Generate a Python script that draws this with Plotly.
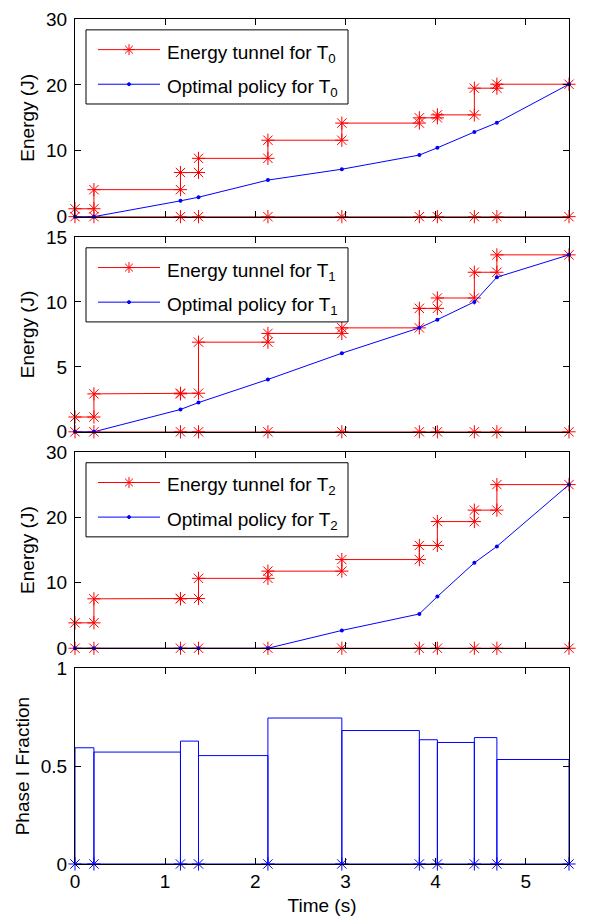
import plotly.graph_objects as go

# ---------------- data ----------------
times = [0, 0.21, 1.17, 1.37, 2.14, 2.96, 3.82, 4.02, 4.43, 4.68, 5.48]

tunnel_T0 = [1.2, 4.1, 6.7, 8.85, 11.6, 14.2, 15.0, 15.45, 19.5, 20.1]
policy_T0 = [0, 0, 2.4, 2.95, 5.55, 7.2, 9.35, 10.45, 12.85, 14.25, 20.1]

tunnel_T1 = [1.14, 2.92, 2.97, 6.9, 7.57, 8.0, 9.5, 10.3, 12.28, 13.62]
policy_T1 = [0, 0, 1.72, 2.25, 4.03, 6.05, 8.0, 8.63, 10.0, 11.9, 13.62]

tunnel_T2 = [3.88, 7.55, 7.6, 10.68, 11.78, 13.55, 15.7, 19.35, 21.1, 25.0]
policy_T2 = [0, 0, 0, 0, 0, 2.72, 5.24, 7.9, 13.05, 15.56, 25.0]

phase1_fraction = [0.594, 0.572, 0.628, 0.554, 0.746, 0.682, 0.635, 0.621, 0.646, 0.534]

lower_bound = [0] * len(times)

x_ticks = [0, 1, 2, 3, 4, 5]
y_ranges = [[0, 30], [0, 15], [0, 30], [0, 1]]
y_ticks = [[0, 10, 20, 30], [0, 5, 10, 15], [0, 10, 20, 30], [0, 0.5, 1]]
y_ticktext = [None, None, None, ["0", "0.5", "1"]]
labels = ["0", "1", "2"]

# ---------------- style ----------------
FONT = "Liberation Sans, Arial, Helvetica, sans-serif"
FS = 19
RED = "#ff0000"
BLUE = "#0000ff"
W, H = 595, 924
ML, MR, MT, MB = 75, 26, 9, 60
PW, PH = W - ML - MR, H - MT - MB


def px(x):
    return (x - ML) / PW


def py(y):
    return (H - MB - y) / PH


# panel pixel tops / bottoms
panel_px = [(9, 209), (229.5, 426.7), (447, 645.7), (666, 864)]


def step_path(t, u):
    xs, ys = [], []
    for i, v in enumerate(u):
        xs += [t[i], t[i + 1]]
        ys += [v, v]
    return xs, ys


def bar_path(t, f):
    xs, ys = [t[0]], [0]
    for i, v in enumerate(f):
        xs += [t[i], t[i + 1], t[i + 1]]
        ys += [v, v, 0]
    return xs, ys


fig = go.Figure()

tunnels = [tunnel_T0, tunnel_T1, tunnel_T2]
policies = [policy_T0, policy_T1, policy_T2]

for k in range(3):
    xa = "x" if k == 0 else f"x{k+1}"
    ya = "y" if k == 0 else f"y{k+1}"
    sx, sy = step_path(times, tunnels[k])
    fig.add_trace(go.Scatter(
        x=times, y=lower_bound, xaxis=xa, yaxis=ya, mode="lines+markers",
        line=dict(color="#c00000", width=1),
        marker=dict(symbol="asterisk-open", size=11, color=RED, line=dict(color=RED, width=1)),
        cliponaxis=False, showlegend=False, hoverinfo="skip"))
    fig.add_trace(go.Scatter(
        x=sx, y=sy, xaxis=xa, yaxis=ya, mode="lines+markers",
        line=dict(color=RED, width=1),
        marker=dict(symbol="asterisk-open", size=11, color=RED, line=dict(color=RED, width=1)),
        cliponaxis=False, showlegend=False, name=f"Energy tunnel for T{labels[k]}"))
    fig.add_trace(go.Scatter(
        x=times, y=policies[k], xaxis=xa, yaxis=ya, mode="lines+markers",
        line=dict(color=BLUE, width=1),
        marker=dict(symbol="circle", size=4, color=BLUE),
        cliponaxis=False, showlegend=False, name=f"Optimal policy for T{labels[k]}"))

bx, by = bar_path(times, phase1_fraction)
fig.add_trace(go.Scatter(
    x=bx, y=by, xaxis="x4", yaxis="y4", mode="lines",
    line=dict(color=BLUE, width=1), cliponaxis=False, showlegend=False))
fig.add_trace(go.Scatter(
    x=times, y=lower_bound, xaxis="x4", yaxis="y4", mode="lines+markers",
    line=dict(color=BLUE, width=1),
    marker=dict(symbol="asterisk-open", size=11, color=BLUE, line=dict(color=BLUE, width=1)),
    cliponaxis=False, showlegend=False))

axis_common = dict(
    showline=True, linecolor="black", linewidth=1, mirror="ticks",
    ticks="inside", ticklen=6, tickwidth=1, tickcolor="black",
    showgrid=False, zeroline=False,
    tickfont=dict(family=FONT, size=FS, color="black"),
)

layout = dict(
    width=W, height=H, margin=dict(l=ML, r=MR, t=MT, b=MB),
    paper_bgcolor="white", plot_bgcolor="white",
    font=dict(family=FONT, size=FS, color="black"),
    showlegend=False,
)

for k in range(4):
    sfx = "" if k == 0 else str(k + 1)
    top, bot = panel_px[k]
    xax = dict(axis_common, domain=[0, 1], range=[0, 5.48], tickvals=x_ticks,
               anchor="y" + sfx, showticklabels=(k == 3))
    if k == 3:
        xax["title"] = dict(text="Time (s)", font=dict(family=FONT, size=FS), standoff=7)
    yax = dict(axis_common, domain=[py(bot), py(top)], range=y_ranges[k],
               tickvals=y_ticks[k], anchor="x" + sfx, ticklabelstandoff=3)
    if y_ticktext[k] is not None:
        yax["ticktext"] = y_ticktext[k]
    yax["title"] = dict(text=("Energy (J)" if k < 3 else "Phase I Fraction"),
                        font=dict(family=FONT, size=FS), standoff=6)
    layout["xaxis" + sfx] = xax
    layout["yaxis" + sfx] = yax

# ---------------- manual legends (MATLAB style) ----------------
shapes = []
annotations = []


def asterisk_path(cx, cy, r):
    d = r * 0.7071
    segs = [(-r, 0, r, 0), (0, -r, 0, r), (-d, -d, d, d), (-d, d, d, -d)]
    p = ""
    for a, b, c, e in segs:
        p += f"M{px(cx + a)},{py(cy + b)} L{px(cx + c)},{py(cy + e)} "
    return p


for k in range(3):
    top = panel_px[k][0]
    shapes.append(dict(type="rect", xref="paper", yref="paper",
                       x0=px(86), x1=px(348), y0=py(top + 86), y1=py(top + 11),
                       line=dict(color="black", width=1), fillcolor="white", layer="above"))
    y1 = top + 31
    y2 = top + 66
    shapes.append(dict(type="line", xref="paper", yref="paper",
                       x0=px(98), x1=px(160), y0=py(y1), y1=py(y1),
                       line=dict(color=RED, width=1), layer="above"))
    shapes.append(dict(type="path", xref="paper", yref="paper",
                       path=asterisk_path(129, y1, 5.5),
                       line=dict(color=RED, width=1), layer="above"))
    shapes.append(dict(type="line", xref="paper", yref="paper",
                       x0=px(98), x1=px(160), y0=py(y2), y1=py(y2),
                       line=dict(color=BLUE, width=1), layer="above"))
    shapes.append(dict(type="circle", xref="paper", yref="paper",
                       x0=px(127.5), x1=px(130.5), y0=py(y2 + 1.5), y1=py(y2 - 1.5),
                       line=dict(color=BLUE, width=1), fillcolor=BLUE, layer="above"))
    annotations.append(dict(xref="paper", yref="paper", x=px(165), y=py(y1 + 4),
                            text=f"Energy tunnel for T<sub>{labels[k]}</sub>",
                            showarrow=False, xanchor="left", yanchor="middle",
                            font=dict(family=FONT, size=FS, color="black")))
    annotations.append(dict(xref="paper", yref="paper", x=px(165), y=py(y2 + 4),
                            text=f"Optimal policy for T<sub>{labels[k]}</sub>",
                            showarrow=False, xanchor="left", yanchor="middle",
                            font=dict(family=FONT, size=FS, color="black")))

layout["shapes"] = shapes
layout["annotations"] = annotations
fig.update_layout(**layout)

fig.write_html("out.html")
